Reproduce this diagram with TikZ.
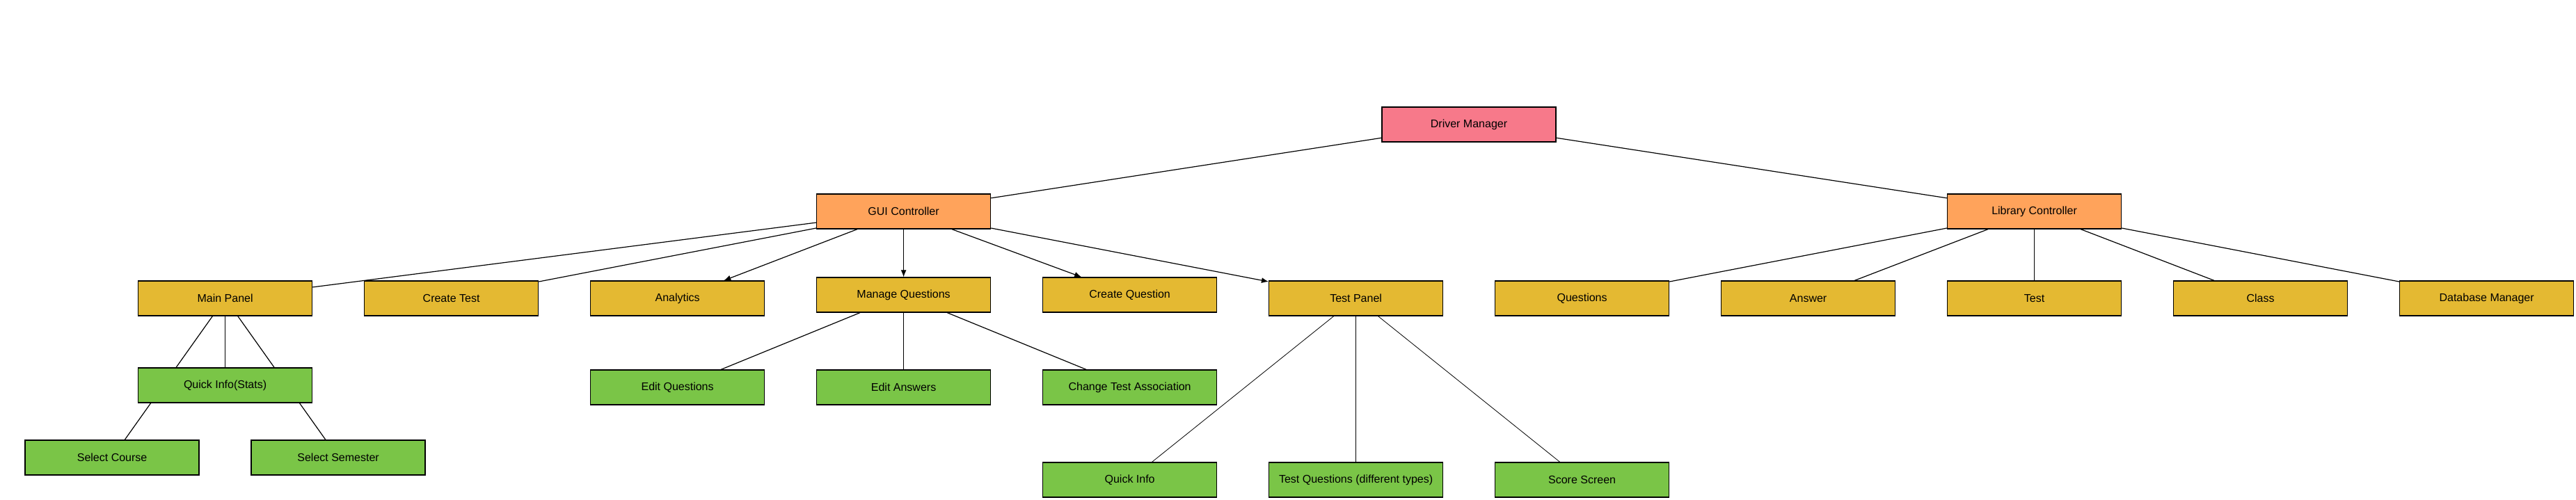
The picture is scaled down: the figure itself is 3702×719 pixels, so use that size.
\documentclass[tikz,border=0pt]{standalone}
\usepackage{fontspec}
\setmainfont{Liberation Sans}
\usepackage{tikz}
\usetikzlibrary{calc}
\usetikzlibrary{arrows.meta,backgrounds}
\definecolor{DMrosa}{RGB}{247,121,138}
\definecolor{CTorange}{RGB}{255,163,91}
\definecolor{PNgelb}{RGB}{228,185,50}
\definecolor{UNgruen}{RGB}{122,197,71}

\begin{document}
\begin{tikzpicture}[x=1pt, y=-1pt,
	Pfeil/.style={line width=1.2pt, arrows = -{Latex[length=10pt, width=8pt]}},
	Linie/.style={line width=1.2pt},
	Kasten/.style={draw, line width=1.3pt, minimum width=250pt, minimum height=50pt, inner sep=0pt, font=\fontsize{16}{19}\selectfont}]
				\useasboundingbox (0,0) rectangle (3702,719);
				% Ebene 1 und 2
				\node (driver) at (2111,179) [Kasten, fill=DMrosa] {Driver Manager};
				\node (gui) at (1298.6,304) [Kasten, fill=CTorange] {GUI Controller};
				\node (library) at ($(gui) + (1625,0)$) [Kasten, fill=CTorange] {Library Controller};
				% Ebene 3
				\coordinate (r) at (323.6,429);
				\node (main) at (r) [Kasten, fill=PNgelb] {Main Panel};
				\node (createtest) at ($(r) + (325,0)$) [Kasten, fill=PNgelb] {Create Test};
				\node (analytics) at ($(r) + (650,0)$) [Kasten, fill=PNgelb] {Analytics};
				\node (manage) at ($(r) + (975,-5)$) [Kasten, fill=PNgelb] {Manage Questions};
				\node (createq) at ($(r) + (1300,-5)$) [Kasten, fill=PNgelb] {Create Question};
				\node (testpanel) at ($(r) + (1625,0)$) [Kasten, fill=PNgelb] {Test Panel};
				\node (questions) at ($(r) + (1950,0)$) [Kasten, fill=PNgelb] {Questions};
				\node (answer) at ($(r) + (2275,0)$) [Kasten, fill=PNgelb] {Answer};
				\node (test) at ($(r) + (2600,0)$) [Kasten, fill=PNgelb] {Test};
				\node (class) at ($(r) + (2925,0)$) [Kasten, fill=PNgelb] {Class};
				\node (database) at ($(r) + (3250,0)$) [Kasten, fill=PNgelb] {Database Manager};
				% Ebene 4 und 5
				\node (stats) at ($(main) + (0,125)$) [Kasten, fill=UNgruen] {Quick Info(Stats)};
				\node (course) at ($(main) + (-162.5,229)$) [Kasten, fill=UNgruen] {Select Course};
				\node (semester) at ($(main) + (162.5,229)$) [Kasten, fill=UNgruen] {Select Semester};
				\node (editq) at ($(analytics) + (0,128)$) [Kasten, fill=UNgruen] {Edit Questions};
				\node (edita) at ($(manage) + (0,133)$) [Kasten, fill=UNgruen] {Edit Answers};
				\node (change) at ($(createq) + (0,133)$) [Kasten, fill=UNgruen] {Change Test Association};
				\node (quickinfo) at ($(createq) + (0,266)$) [Kasten, fill=UNgruen] {Quick Info};
				\node (testq) at ($(testpanel) + (0,261)$) [Kasten, fill=UNgruen] {Test Questions (different types)};
				\node (score) at ($(testpanel) + (325,261)$) [Kasten, fill=UNgruen] {Score Screen};
				% Verbindungen
				\draw[Linie] (driver) to (gui);
				\draw[Linie] (driver) to (library);
				\draw[Linie] (gui) to (main);
				\draw[Linie] (gui) to (createtest);
				\draw[Pfeil] (gui) to (analytics);
				\draw[Pfeil] (gui) to (manage);
				\draw[Pfeil] (gui) to (createq);
				\draw[Pfeil] (gui) to (testpanel);
				\draw[Linie] (library) to (questions);
				\draw[Linie] (library) to (answer);
				\draw[Linie] (library) to (test);
				\draw[Linie] (library) to (class);
				\draw[Linie] (library) to (database);
				\draw[Linie] (main) to (stats);
				\begin{scope}[on background layer]
					\draw[Linie] (main.center) to (course.center);
					\draw[Linie] (main.center) to (semester.center);
				\end{scope}
				\draw[Linie] (manage) to (editq);
				\draw[Linie] (manage) to (edita);
				\draw[Linie] (manage) to (change);
				\draw[line width=0.8pt] (testpanel) to (quickinfo);
				\draw[line width=0.8pt] (testpanel) to (testq);
				\draw[line width=0.8pt] (testpanel) to (score);
			\end{tikzpicture}
\end{document}
